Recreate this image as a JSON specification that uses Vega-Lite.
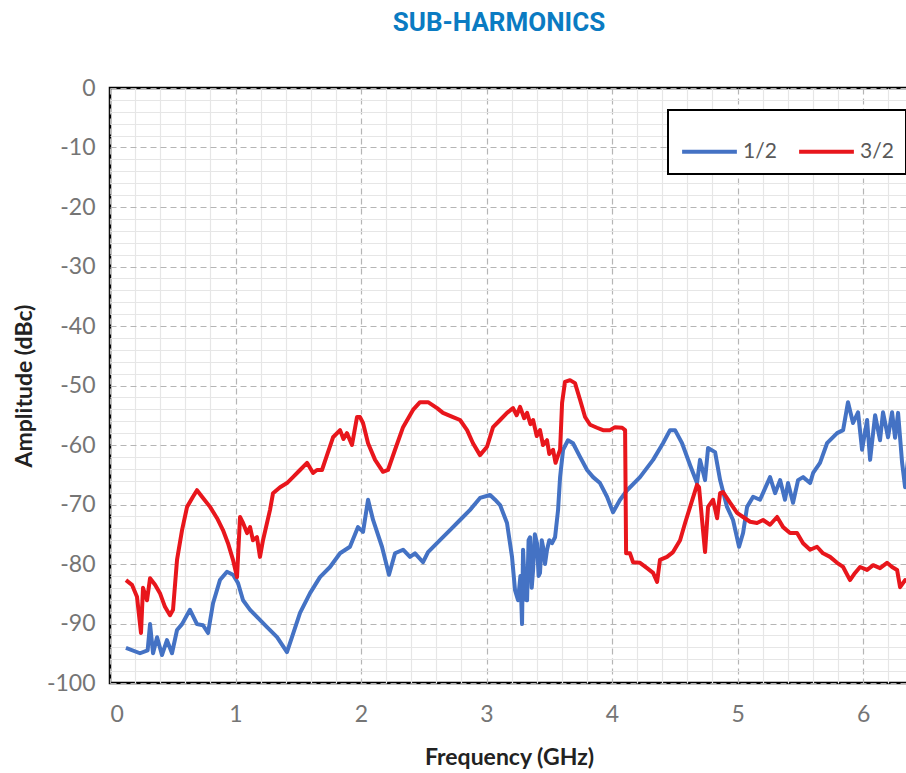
{
  "$schema": "https://vega.github.io/schema/vega-lite/v6.json",
  "autosize": "none",
  "width": 798,
  "height": 595,
  "padding": {"left": 110, "top": 88, "right": 0, "bottom": 90},
  "background": "white",
  "title": {"text": "SUB-HARMONICS", "color": "#0a7bc2", "fontSize": 26, "font": "Roboto", "fontWeight": "bold", "anchor": "middle", "frame": "group", "dx": -10, "offset": 20, "baseline": "alphabetic"},
  "config": {
    "view": {"stroke": "black", "strokeWidth": 2.5},
    "axis": {"ticks": false, "domain": false, "labelOverlap": false, "labelBound": false, "labelFont": "Lato", "labelColor": "#757575", "labelFontSize": 23, "titleFont": "Lato", "titleFontWeight": "bold", "titleFontSize": 23, "titleColor": "#222222"},
    "legend": {"orient": "none", "legendX": 558, "legendY": 22, "direction": "horizontal", "symbolType": "stroke", "symbolSize": 3000, "symbolStrokeWidth": 4, "labelFontSize": 21, "labelFont": "Lato", "labelColor": "#595959", "strokeColor": "black", "strokeWidth": 2, "fillColor": "white", "padding": 12, "columnPadding": 14, "labelOffset": 4}
  },
  "data": {"values": [
    {"s":"1/2","f":0.127,"a":-94.1},{"s":"1/2","f":0.239,"a":-95.0},{"s":"1/2","f":0.30,"a":-94.5},{"s":"1/2","f":0.319,"a":-90.1},{"s":"1/2","f":0.343,"a":-95.0},{"s":"1/2","f":0.375,"a":-92.3},{"s":"1/2","f":0.414,"a":-95.3},{"s":"1/2","f":0.454,"a":-92.8},{"s":"1/2","f":0.494,"a":-95.0},{"s":"1/2","f":0.534,"a":-91.1},{"s":"1/2","f":0.574,"a":-90.1},{"s":"1/2","f":0.637,"a":-87.7},{"s":"1/2","f":0.693,"a":-90.1},{"s":"1/2","f":0.741,"a":-90.3},{"s":"1/2","f":0.781,"a":-91.6},{"s":"1/2","f":0.821,"a":-86.6},{"s":"1/2","f":0.876,"a":-82.7},{"s":"1/2","f":0.932,"a":-81.3},{"s":"1/2","f":0.980,"a":-81.8},{"s":"1/2","f":1.020,"a":-83.2},{"s":"1/2","f":1.060,"a":-86.1},{"s":"1/2","f":1.116,"a":-87.7},{"s":"1/2","f":1.171,"a":-88.9},{"s":"1/2","f":1.251,"a":-90.6},{"s":"1/2","f":1.331,"a":-92.3},{"s":"1/2","f":1.41,"a":-94.8},{"s":"1/2","f":1.45,"a":-92.3},{"s":"1/2","f":1.514,"a":-88.2},{"s":"1/2","f":1.594,"a":-84.9},{"s":"1/2","f":1.673,"a":-82.2},{"s":"1/2","f":1.753,"a":-80.5},{"s":"1/2","f":1.833,"a":-78.2},{"s":"1/2","f":1.912,"a":-77.1},{"s":"1/2","f":1.976,"a":-73.8},{"s":"1/2","f":2.016,"a":-74.6},{"s":"1/2","f":2.056,"a":-69.2},{"s":"1/2","f":2.096,"a":-72.6},{"s":"1/2","f":2.167,"a":-77.1},{"s":"1/2","f":2.223,"a":-81.8},{"s":"1/2","f":2.271,"a":-78.2},{"s":"1/2","f":2.335,"a":-77.6},{"s":"1/2","f":2.390,"a":-78.8},{"s":"1/2","f":2.430,"a":-78.2},{"s":"1/2","f":2.494,"a":-79.7},{"s":"1/2","f":2.534,"a":-78.0},{"s":"1/2","f":2.629,"a":-76.0},{"s":"1/2","f":2.709,"a":-74.3},{"s":"1/2","f":2.789,"a":-72.6},{"s":"1/2","f":2.869,"a":-70.9},{"s":"1/2","f":2.948,"a":-68.9},{"s":"1/2","f":3.028,"a":-68.4},{"s":"1/2","f":3.068,"a":-69.2},{"s":"1/2","f":3.108,"a":-70.1},{"s":"1/2","f":3.163,"a":-73.1},{"s":"1/2","f":3.203,"a":-78.8},{"s":"1/2","f":3.227,"a":-84.4},{"s":"1/2","f":3.251,"a":-86.1},{"s":"1/2","f":3.27,"a":-82.0},{"s":"1/2","f":3.283,"a":-90.1},{"s":"1/2","f":3.291,"a":-77.6},{"s":"1/2","f":3.31,"a":-86.0},{"s":"1/2","f":3.323,"a":-86.1},{"s":"1/2","f":3.335,"a":-76.0},{"s":"1/2","f":3.347,"a":-75.5},{"s":"1/2","f":3.36,"a":-84.0},{"s":"1/2","f":3.371,"a":-81.0},{"s":"1/2","f":3.385,"a":-75.0},{"s":"1/2","f":3.402,"a":-76.5},{"s":"1/2","f":3.415,"a":-82.0},{"s":"1/2","f":3.426,"a":-81.5},{"s":"1/2","f":3.44,"a":-76.0},{"s":"1/2","f":3.450,"a":-77.1},{"s":"1/2","f":3.466,"a":-80.0},{"s":"1/2","f":3.482,"a":-77.6},{"s":"1/2","f":3.50,"a":-76.0},{"s":"1/2","f":3.522,"a":-76.5},{"s":"1/2","f":3.546,"a":-75.5},{"s":"1/2","f":3.570,"a":-70.9},{"s":"1/2","f":3.586,"a":-65.4},{"s":"1/2","f":3.610,"a":-60.8},{"s":"1/2","f":3.649,"a":-59.2},{"s":"1/2","f":3.689,"a":-59.7},{"s":"1/2","f":3.745,"a":-62.0},{"s":"1/2","f":3.801,"a":-64.2},{"s":"1/2","f":3.849,"a":-65.4},{"s":"1/2","f":3.904,"a":-66.4},{"s":"1/2","f":3.960,"a":-68.7},{"s":"1/2","f":4.008,"a":-71.3},{"s":"1/2","f":4.064,"a":-69.2},{"s":"1/2","f":4.120,"a":-67.6},{"s":"1/2","f":4.223,"a":-65.4},{"s":"1/2","f":4.327,"a":-62.5},{"s":"1/2","f":4.406,"a":-59.7},{"s":"1/2","f":4.462,"a":-57.5},{"s":"1/2","f":4.502,"a":-57.5},{"s":"1/2","f":4.558,"a":-59.7},{"s":"1/2","f":4.622,"a":-63.4},{"s":"1/2","f":4.677,"a":-66.4},{"s":"1/2","f":4.701,"a":-62.5},{"s":"1/2","f":4.741,"a":-65.9},{"s":"1/2","f":4.765,"a":-60.5},{"s":"1/2","f":4.821,"a":-61.2},{"s":"1/2","f":4.861,"a":-65.9},{"s":"1/2","f":4.916,"a":-70.4},{"s":"1/2","f":4.964,"a":-72.6},{"s":"1/2","f":5.012,"a":-77.1},{"s":"1/2","f":5.044,"a":-74.8},{"s":"1/2","f":5.076,"a":-70.4},{"s":"1/2","f":5.124,"a":-68.7},{"s":"1/2","f":5.179,"a":-69.2},{"s":"1/2","f":5.259,"a":-65.4},{"s":"1/2","f":5.299,"a":-68.1},{"s":"1/2","f":5.339,"a":-65.9},{"s":"1/2","f":5.378,"a":-69.2},{"s":"1/2","f":5.402,"a":-66.4},{"s":"1/2","f":5.442,"a":-69.7},{"s":"1/2","f":5.482,"a":-65.9},{"s":"1/2","f":5.522,"a":-65.4},{"s":"1/2","f":5.578,"a":-66.4},{"s":"1/2","f":5.602,"a":-64.7},{"s":"1/2","f":5.657,"a":-63.0},{"s":"1/2","f":5.713,"a":-59.7},{"s":"1/2","f":5.793,"a":-58.0},{"s":"1/2","f":5.841,"a":-57.5},{"s":"1/2","f":5.880,"a":-52.8},{"s":"1/2","f":5.920,"a":-56.3},{"s":"1/2","f":5.960,"a":-54.5},{"s":"1/2","f":5.992,"a":-60.8},{"s":"1/2","f":6.032,"a":-55.8},{"s":"1/2","f":6.056,"a":-62.5},{"s":"1/2","f":6.096,"a":-55.0},{"s":"1/2","f":6.135,"a":-59.2},{"s":"1/2","f":6.159,"a":-54.5},{"s":"1/2","f":6.199,"a":-58.7},{"s":"1/2","f":6.231,"a":-54.5},{"s":"1/2","f":6.255,"a":-58.8},{"s":"1/2","f":6.279,"a":-54.6},{"s":"1/2","f":6.311,"a":-63.0},{"s":"1/2","f":6.335,"a":-67.1},{"s":"1/2","f":6.36,"a":-62.0},
    {"s":"3/2","f":0.127,"a":-82.7},{"s":"3/2","f":0.175,"a":-83.5},{"s":"3/2","f":0.215,"a":-85.5},{"s":"3/2","f":0.247,"a":-91.6},{"s":"3/2","f":0.263,"a":-84.0},{"s":"3/2","f":0.295,"a":-86.1},{"s":"3/2","f":0.319,"a":-82.4},{"s":"3/2","f":0.359,"a":-83.5},{"s":"3/2","f":0.398,"a":-84.9},{"s":"3/2","f":0.438,"a":-87.2},{"s":"3/2","f":0.478,"a":-88.6},{"s":"3/2","f":0.502,"a":-87.7},{"s":"3/2","f":0.534,"a":-79.3},{"s":"3/2","f":0.574,"a":-74.3},{"s":"3/2","f":0.614,"a":-70.4},{"s":"3/2","f":0.661,"a":-68.7},{"s":"3/2","f":0.693,"a":-67.6},{"s":"3/2","f":0.741,"a":-68.9},{"s":"3/2","f":0.797,"a":-70.4},{"s":"3/2","f":0.853,"a":-72.3},{"s":"3/2","f":0.900,"a":-74.3},{"s":"3/2","f":0.940,"a":-76.5},{"s":"3/2","f":0.980,"a":-79.3},{"s":"3/2","f":1.012,"a":-82.2},{"s":"3/2","f":1.036,"a":-72.1},{"s":"3/2","f":1.060,"a":-73.1},{"s":"3/2","f":1.092,"a":-74.8},{"s":"3/2","f":1.116,"a":-73.8},{"s":"3/2","f":1.139,"a":-76.0},{"s":"3/2","f":1.171,"a":-75.5},{"s":"3/2","f":1.195,"a":-78.8},{"s":"3/2","f":1.219,"a":-76.0},{"s":"3/2","f":1.275,"a":-70.9},{"s":"3/2","f":1.299,"a":-68.1},{"s":"3/2","f":1.355,"a":-67.1},{"s":"3/2","f":1.410,"a":-66.4},{"s":"3/2","f":1.458,"a":-65.4},{"s":"3/2","f":1.514,"a":-64.2},{"s":"3/2","f":1.570,"a":-63.0},{"s":"3/2","f":1.618,"a":-64.7},{"s":"3/2","f":1.649,"a":-64.2},{"s":"3/2","f":1.689,"a":-64.2},{"s":"3/2","f":1.729,"a":-61.7},{"s":"3/2","f":1.777,"a":-58.7},{"s":"3/2","f":1.833,"a":-57.5},{"s":"3/2","f":1.86,"a":-59.0},{"s":"3/2","f":1.888,"a":-58.0},{"s":"3/2","f":1.928,"a":-60.0},{"s":"3/2","f":1.968,"a":-55.3},{"s":"3/2","f":1.992,"a":-55.3},{"s":"3/2","f":2.016,"a":-56.3},{"s":"3/2","f":2.056,"a":-59.7},{"s":"3/2","f":2.112,"a":-62.5},{"s":"3/2","f":2.175,"a":-64.5},{"s":"3/2","f":2.215,"a":-64.2},{"s":"3/2","f":2.271,"a":-60.8},{"s":"3/2","f":2.335,"a":-57.0},{"s":"3/2","f":2.414,"a":-54.1},{"s":"3/2","f":2.470,"a":-52.8},{"s":"3/2","f":2.534,"a":-52.8},{"s":"3/2","f":2.606,"a":-53.8},{"s":"3/2","f":2.653,"a":-54.6},{"s":"3/2","f":2.733,"a":-55.3},{"s":"3/2","f":2.789,"a":-55.8},{"s":"3/2","f":2.845,"a":-57.5},{"s":"3/2","f":2.892,"a":-59.7},{"s":"3/2","f":2.948,"a":-61.7},{"s":"3/2","f":3.004,"a":-60.3},{"s":"3/2","f":3.052,"a":-57.0},{"s":"3/2","f":3.108,"a":-55.8},{"s":"3/2","f":3.163,"a":-54.6},{"s":"3/2","f":3.211,"a":-53.8},{"s":"3/2","f":3.24,"a":-55.0},{"s":"3/2","f":3.267,"a":-53.6},{"s":"3/2","f":3.30,"a":-55.5},{"s":"3/2","f":3.323,"a":-54.6},{"s":"3/2","f":3.35,"a":-56.5},{"s":"3/2","f":3.371,"a":-55.8},{"s":"3/2","f":3.40,"a":-58.5},{"s":"3/2","f":3.426,"a":-57.5},{"s":"3/2","f":3.45,"a":-60.0},{"s":"3/2","f":3.482,"a":-59.2},{"s":"3/2","f":3.50,"a":-61.5},{"s":"3/2","f":3.530,"a":-60.8},{"s":"3/2","f":3.55,"a":-63.0},{"s":"3/2","f":3.562,"a":-62.2},{"s":"3/2","f":3.586,"a":-60.8},{"s":"3/2","f":3.602,"a":-52.9},{"s":"3/2","f":3.625,"a":-49.4},{"s":"3/2","f":3.665,"a":-49.1},{"s":"3/2","f":3.705,"a":-49.6},{"s":"3/2","f":3.745,"a":-52.4},{"s":"3/2","f":3.785,"a":-55.3},{"s":"3/2","f":3.825,"a":-56.6},{"s":"3/2","f":3.880,"a":-57.1},{"s":"3/2","f":3.928,"a":-57.5},{"s":"3/2","f":3.984,"a":-57.5},{"s":"3/2","f":4.024,"a":-57.0},{"s":"3/2","f":4.080,"a":-57.1},{"s":"3/2","f":4.104,"a":-57.5},{"s":"3/2","f":4.112,"a":-78.2},{"s":"3/2","f":4.143,"a":-78.2},{"s":"3/2","f":4.167,"a":-79.7},{"s":"3/2","f":4.223,"a":-79.8},{"s":"3/2","f":4.279,"a":-80.7},{"s":"3/2","f":4.327,"a":-81.5},{"s":"3/2","f":4.359,"a":-83.0},{"s":"3/2","f":4.382,"a":-79.3},{"s":"3/2","f":4.438,"a":-78.8},{"s":"3/2","f":4.486,"a":-78.0},{"s":"3/2","f":4.542,"a":-76.0},{"s":"3/2","f":4.582,"a":-73.1},{"s":"3/2","f":4.622,"a":-70.4},{"s":"3/2","f":4.677,"a":-66.7},{"s":"3/2","f":4.693,"a":-67.1},{"s":"3/2","f":4.741,"a":-78.0},{"s":"3/2","f":4.765,"a":-70.4},{"s":"3/2","f":4.805,"a":-69.2},{"s":"3/2","f":4.837,"a":-72.3},{"s":"3/2","f":4.861,"a":-68.1},{"s":"3/2","f":4.884,"a":-67.9},{"s":"3/2","f":4.940,"a":-69.7},{"s":"3/2","f":4.996,"a":-71.4},{"s":"3/2","f":5.044,"a":-72.1},{"s":"3/2","f":5.100,"a":-72.9},{"s":"3/2","f":5.155,"a":-73.1},{"s":"3/2","f":5.203,"a":-72.6},{"s":"3/2","f":5.259,"a":-73.4},{"s":"3/2","f":5.315,"a":-72.1},{"s":"3/2","f":5.363,"a":-73.8},{"s":"3/2","f":5.418,"a":-74.8},{"s":"3/2","f":5.474,"a":-74.8},{"s":"3/2","f":5.522,"a":-76.5},{"s":"3/2","f":5.578,"a":-77.6},{"s":"3/2","f":5.633,"a":-77.1},{"s":"3/2","f":5.681,"a":-78.2},{"s":"3/2","f":5.737,"a":-78.8},{"s":"3/2","f":5.793,"a":-79.8},{"s":"3/2","f":5.841,"a":-80.5},{"s":"3/2","f":5.896,"a":-82.7},{"s":"3/2","f":5.936,"a":-81.5},{"s":"3/2","f":5.976,"a":-80.5},{"s":"3/2","f":6.032,"a":-81.0},{"s":"3/2","f":6.080,"a":-80.2},{"s":"3/2","f":6.135,"a":-80.7},{"s":"3/2","f":6.191,"a":-79.8},{"s":"3/2","f":6.231,"a":-80.5},{"s":"3/2","f":6.271,"a":-81.0},{"s":"3/2","f":6.295,"a":-83.9},{"s":"3/2","f":6.335,"a":-82.7},{"s":"3/2","f":6.36,"a":-83.0}
  ]},
  "mark": {"type": "line", "strokeWidth": 4, "strokeJoin": "round", "clip": true},
  "encoding": {
    "x": {"field": "f", "type": "quantitative", "scale": {"domain": [0, 6.358], "nice": false, "zero": false},
      "axis": {"title": "Frequency (GHz)", "values": [0,0.2,0.4,0.6,0.8,1,1.2,1.4,1.6,1.8,2,2.2,2.4,2.6,2.8,3,3.2,3.4,3.6,3.8,4,4.2,4.4,4.6,4.8,5,5.2,5.4,5.6,5.8,6,6.2],
        "labelExpr": "abs(datum.value - round(datum.value)) < 0.01 ? '' + round(datum.value) : ''",
        "labelPadding": 20, "titlePadding": 20,
        "gridColor": {"condition": {"test": "abs(datum.value - round(datum.value)) < 0.01", "value": "#b5b5b5"}, "value": "#e6e6e6"},
        "gridDash": {"condition": {"test": "abs(datum.value - round(datum.value)) < 0.01", "value": [6, 4]}, "value": []},
        "gridWidth": 1.2}},
    "y": {"field": "a", "type": "quantitative", "scale": {"domain": [-100, 0], "nice": false},
      "axis": {"title": "Amplitude (dBc)", "values": [-100,-98,-96,-94,-92,-90,-88,-86,-84,-82,-80,-78,-76,-74,-72,-70,-68,-66,-64,-62,-60,-58,-56,-54,-52,-50,-48,-46,-44,-42,-40,-38,-36,-34,-32,-30,-28,-26,-24,-22,-20,-18,-16,-14,-12,-10,-8,-6,-4,-2,0],
        "labelExpr": "datum.value % 10 === 0 ? '' + datum.value : ''",
        "labelPadding": 15, "titlePadding": 10,
        "gridColor": {"condition": {"test": "datum.value % 10 === 0", "value": "#b5b5b5"}, "value": "#e6e6e6"},
        "gridDash": {"condition": {"test": "datum.value % 10 === 0", "value": [6, 4]}, "value": []},
        "gridWidth": 1.2}},
    "color": {"field": "s", "type": "nominal", "title": null, "scale": {"domain": ["1/2", "3/2"], "range": ["#4472c4", "#e8161c"]}},
    "order": {"field": "f", "type": "quantitative"}
  }
}
